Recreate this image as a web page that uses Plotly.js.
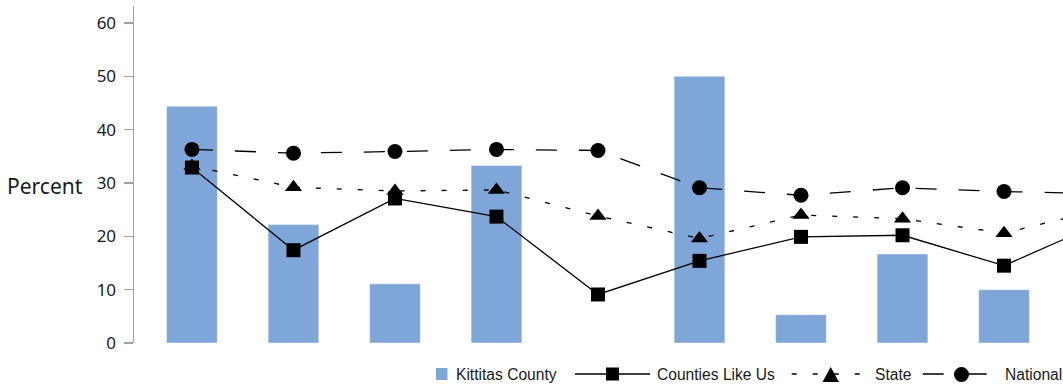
<!DOCTYPE html>
<html><head><meta charset="utf-8">
<script src="https://cdn.plot.ly/plotly-3.0.1.min.js"></script>
<style>html,body{margin:0;padding:0;background:#fff;}#chart{width:1063px;height:386px;}</style>
</head><body><div id="chart"></div>
<script>
// ---- data ----
const categories = ['1','2','3','4','5','6','7','8','9','10'];
const seriesNames = ['Kittitas County','Counties Like Us','State','National'];
const kittitas = [44.4, 22.2, 11.1, 33.3, null, 50.0, 5.3, 16.7, 10.0, null];
const countiesLikeUs = [32.9, 17.4, 27.1, 23.7, 9.1, 15.4, 19.9, 20.2, 14.5, 22.9];
const state = [33.2, 29.2, 28.5, 28.7, 23.8, 19.6, 24.0, 23.3, 20.6, 25.2];
const national = [36.3, 35.6, 35.9, 36.3, 36.1, 29.1, 27.7, 29.1, 28.4, 28.0];
const yTicks = [0, 10, 20, 30, 40, 50, 60];
const yTitle = 'Percent';

// ---- styling / layout ----
const W = 1063, H = 386;
const M = {l: 134, r: 0, t: 6, b: 43};
const plotW = W - M.l - M.r, plotH = H - M.t - M.b;
const px = x => (x - M.l) / plotW;
const py = y => (H - M.b - y) / plotH;
const barColor = '#7fa6d8';
const ink = '#1a1a1a';

const traces = [
  {type: 'bar', x: categories, y: kittitas, name: seriesNames[0], width: 0.5,
   marker: {color: barColor, line: {color: 'rgba(255,255,255,0.45)', width: 1}}, hoverinfo: 'skip'},
  {type: 'scatter', mode: 'lines+markers', x: categories, y: national, name: seriesNames[3],
   line: {color: '#000', width: 1.3, dash: '21px,22px'}, marker: {symbol: 'circle', size: 15, color: '#000'}, hoverinfo: 'skip'},
  {type: 'scatter', mode: 'lines+markers', x: categories, y: state, name: seriesNames[2],
   line: {color: '#000', width: 1.3, dash: '5px,16px'}, marker: {symbol: 'triangle-up', size: 15, color: '#000'}, hoverinfo: 'skip'},
  {type: 'scatter', mode: 'lines+markers', x: categories, y: countiesLikeUs, name: seriesNames[1],
   line: {color: '#000', width: 1.3}, marker: {symbol: 'square', size: 14, color: '#000'}, hoverinfo: 'skip'}
];

const legY = 374;
const shapes = [
  {type: 'rect', xref: 'paper', yref: 'paper', x0: px(436), x1: px(447.5), y0: py(380), y1: py(368), fillcolor: barColor, line: {width: 0}},
  {type: 'line', xref: 'paper', yref: 'paper', x0: px(575), x1: px(650), y0: py(legY), y1: py(legY), line: {color: '#000', width: 1.3}},
  {type: 'rect', xref: 'paper', yref: 'paper', x0: px(606), x1: px(619), y0: py(380.5), y1: py(367.5), fillcolor: '#000', line: {width: 0}},
  {type: 'line', xref: 'paper', yref: 'paper', x0: px(791.7), x1: px(861.7), y0: py(legY), y1: py(legY), line: {color: '#000', width: 1.3, dash: '5px,16px'}},
  {type: 'path', xref: 'paper', yref: 'paper',
   path: 'M ' + px(822.5) + ',' + py(382) + ' L ' + px(839) + ',' + py(382) + ' L ' + px(830.7) + ',' + py(367) + ' Z',
   fillcolor: '#000', line: {width: 0}},
  {type: 'line', xref: 'paper', yref: 'paper', x0: px(922.7), x1: px(986.7), y0: py(legY), y1: py(legY), line: {color: '#000', width: 1.3, dash: '21px,22px'}},
  {type: 'circle', xref: 'paper', yref: 'paper', x0: px(954), x1: px(969), y0: py(382), y1: py(367), fillcolor: '#000', line: {width: 0}}
];

const legFont = {family: 'Liberation Sans, Arial, sans-serif', size: 15.6, color: ink};
const legX = [455, 656, 874, 1004];
const legOrder = [0, 1, 2, 3];
const annotations = legOrder.map((s, i) => ({
  xref: 'paper', yref: 'paper', x: px(legX[i]), y: py(legY), xanchor: 'left', yanchor: 'middle',
  text: seriesNames[s], showarrow: false, font: legFont, borderpad: 0
}));
annotations.push({
  xref: 'paper', yref: 'paper', x: px(84), y: py(186), xanchor: 'right', yanchor: 'middle',
  text: yTitle, showarrow: false, font: {family: 'Noto Sans, Open Sans, sans-serif', size: 21, color: ink}, borderpad: 0
});

const layout = {
  width: W, height: H, margin: M,
  paper_bgcolor: '#fff', plot_bgcolor: '#fff',
  showlegend: false,
  bargap: 0.5,
  xaxis: {type: 'category', range: [-0.571, 8.581], showline: false, showticklabels: false, ticks: '', showgrid: false, zeroline: false, fixedrange: true},
  yaxis: {range: [0, 63.19], tickvals: yTicks, ticktext: yTicks.map(String), showline: true, linecolor: '#a0a0a0', linewidth: 1.5,
          ticks: 'outside', ticklen: 9, tickwidth: 1.5, tickcolor: '#a0a0a0', showgrid: false, zeroline: false,
          tickfont: {family: 'Noto Sans, Open Sans, sans-serif', size: 17, color: ink}, ticklabelstandoff: 4, fixedrange: true},
  shapes: shapes,
  annotations: annotations
};

Plotly.newPlot('chart', traces, layout, {displayModeBar: false, staticPlot: true});
</script>
</body></html>
